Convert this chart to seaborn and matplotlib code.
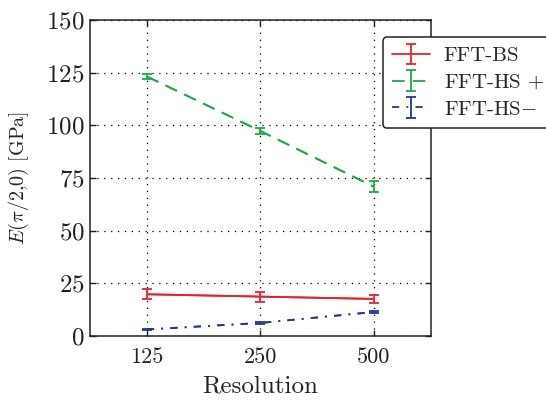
import matplotlib
matplotlib.use("Agg")
import matplotlib.pyplot as plt
import seaborn as sns
import pandas as pd

# Measured moduli per grid resolution
resolutions = ["125", "250", "500"]
fft_bs = [19.8, 18.7, 17.6]
fft_bs_err = [2.3, 2.4, 2.0]
fft_hs_plus = [123.2, 97.3, 70.8]
fft_hs_plus_err = [1.0, 1.6, 2.6]
fft_hs_minus = [3.1, 6.2, 11.4]
fft_hs_minus_err = [0.3, 0.4, 0.4]
methods = ["FFT-BS", "FFT-HS$\\,+$", "FFT-HS$-$"]

sns.set_theme(style="ticks")
plt.rcParams["font.family"] = ["cmr10", "DejaVu Serif"]
plt.rcParams["mathtext.fontset"] = "cm"
plt.rcParams["axes.formatter.use_mathtext"] = True

styles = [
    ("#e8222c", "-"),
    ("#22a845", (0, (7, 4.5))),
    ("#1f3a8f", (0, (4, 4, 1, 4))),
]
values = [fft_bs, fft_hs_plus, fft_hs_minus]
errors = [fft_bs_err, fft_hs_plus_err, fft_hs_minus_err]

frames = []
for name, vals, errs in zip(methods, values, errors):
    frames.append(pd.DataFrame({"Resolution": resolutions, "E": vals,
                                "err": errs, "method": name}))
df = pd.concat(frames, ignore_index=True)

fig = plt.figure(figsize=(5.46, 4.0), dpi=100)
ax = fig.add_axes([0.165, 0.16, 0.624, 0.79])

for name, (color, ls) in zip(methods, styles):
    sub = df[df["method"] == name]
    x = [resolutions.index(r) for r in sub["Resolution"]]
    sns.lineplot(x=x, y=sub["E"].values, ax=ax, color=color, linestyle=ls,
                 linewidth=1.3, errorbar=None, legend=False)
    ax.errorbar(x, sub["E"].values, yerr=sub["err"].values, color=color,
                linestyle=ls, linewidth=1.3, elinewidth=1.3, capsize=3.8,
                capthick=1.3, label=name)

ax.set_xlim(-0.5, 2.5)
ax.set_ylim(0, 150)
ax.set_xticks(range(len(resolutions)))
ax.set_xticklabels(resolutions)
ax.set_yticks([0, 25, 50, 75, 100, 125, 150])
ax.grid(True, color="black", linestyle=(0, (1, 4.5)), linewidth=0.9)
ax.tick_params(direction="in", top=True, right=True, length=4, width=1,
               colors="#222222")
ax.tick_params(axis="x", labelsize=16, pad=8)
ax.tick_params(axis="y", labelsize=18, pad=4)
for sp in ax.spines.values():
    sp.set_linewidth(1.1)
    sp.set_color("#222222")

ax.set_xlabel("Resolution", fontsize=18, color="#222222", labelpad=6)
ax.set_ylabel("$E(\\pi/2{,}0)\\ \\mathrm{[GPa]}$", fontsize=14.5,
              color="#222222", labelpad=11)

leg = ax.legend(loc="upper left", bbox_to_anchor=(0.86, 0.945), fontsize=15,
                frameon=True, fancybox=True, edgecolor="#222222",
                framealpha=1, handlelength=1.8, borderaxespad=0,
                labelspacing=0.38, handletextpad=0.65, borderpad=0.45)
leg.get_frame().set_linewidth(1.1)

fig.savefig("out.png", dpi=100)
